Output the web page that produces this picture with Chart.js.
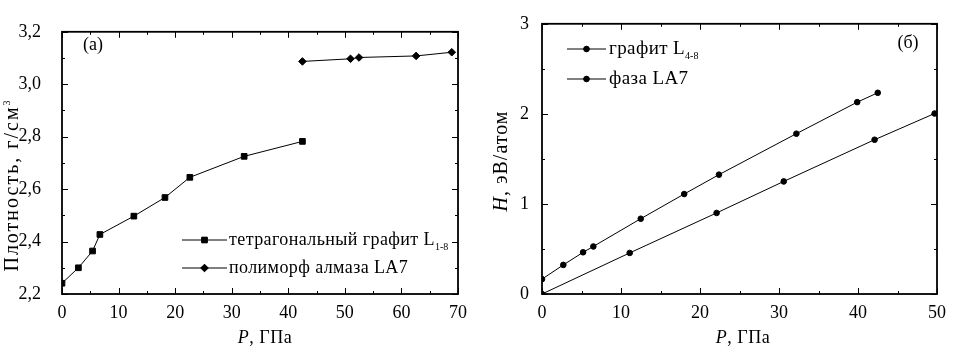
<!DOCTYPE html>
<html lang="ru">
<head>
<meta charset="UTF-8">
<title>Плотность и энтальпия</title>
<script src="https://cdn.jsdelivr.net/npm/chart.js"></script>
<style>
    body { margin: 0; background: #fff; }
    .wrap { position: relative; width: 958px; height: 357px; }
    canvas { position: absolute; top: 0; }
    #densityChart { left: 0; }
    #enthalpyChart { left: 480px; }
</style>
</head>
<body>
<div class="wrap">
    <canvas id="densityChart" width="480" height="357"></canvas>
    <canvas id="enthalpyChart" width="478" height="357"></canvas>
</div>
<script>
// (а) плотность, г/см3
const pressureL18 = [0, 2.9, 5.4, 6.7, 12.7, 18.2, 22.6, 32.2, 42.5];
const densityL18 = [2.241, 2.300, 2.364, 2.427, 2.497, 2.568, 2.645, 2.725, 2.782];
const pressureLA7 = [42.5, 51.0, 52.5, 62.6, 68.9];
const densityLA7 = [3.087, 3.097, 3.102, 3.108, 3.122];

// (б) энтальпия, эВ/атом
const pressureH48 = [0, 2.7, 5.2, 6.5, 12.5, 18.0, 22.4, 32.2, 39.9, 42.5];
const enthalpyH48 = [0.165, 0.323, 0.463, 0.528, 0.836, 1.11, 1.325, 1.78, 2.13, 2.234];
const pressureHLA7 = [0, 11.1, 22.1, 30.6, 42.1, 49.7];
const enthalpyHLA7 = [0, 0.456, 0.90, 1.25, 1.713, 2.004];

const FONT = '"Liberation Serif", "Times New Roman", serif';

function pts(xs, ys) {
    return xs.map((x, i) => ({ x: x, y: ys[i] }));
}

// frame with inward major/minor ticks on all four sides
const frameTicks = {
    id: 'frameTicks',
    afterDraw(chart, args, opts) {
        const ctx = chart.ctx, a = chart.chartArea;
        const sx = chart.scales.x, sy = chart.scales.y;
        ctx.save();
        ctx.strokeStyle = '#000';
        ctx.lineWidth = 1;
        const marks = (scale, step, len, horiz) => {
            const n = Math.round((scale.max - scale.min) / step);
            for (let i = 0; i <= n; i++) {
                const p = Math.round(scale.getPixelForValue(scale.min + i * step)) + 0.5;
                ctx.beginPath();
                if (horiz) {
                    ctx.moveTo(p, a.bottom); ctx.lineTo(p, a.bottom - len);
                    ctx.moveTo(p, a.top); ctx.lineTo(p, a.top + len);
                } else {
                    ctx.moveTo(a.left, p); ctx.lineTo(a.left + len, p);
                    ctx.moveTo(a.right, p); ctx.lineTo(a.right - len, p);
                }
                ctx.stroke();
            }
        };
        marks(sx, opts.xMajor, 6, true);
        marks(sx, opts.xMajor / 2, 3, true);
        marks(sy, opts.yMajor, 6, false);
        marks(sy, opts.yMajor / 2, 3, false);
        ctx.lineWidth = 1.8;
        ctx.strokeRect(a.left, a.top, a.right - a.left, a.bottom - a.top);
        ctx.restore();
    }
};

// text with italic symbol / subscript / superscript pieces
function drawParts(ctx, parts, x, y, align, size, spacing) {
    let w = 0;
    const setFont = p => {
        ctx.font = (p.italic ? 'italic ' : '') + (p.size || size) + 'px ' + FONT;
        ctx.letterSpacing = (p.size ? 0 : spacing) + 'px';
    };
    parts.forEach(p => {
        setFont(p);
        p.w = ctx.measureText(p.t).width;
        w += p.w;
    });
    let cx = align === 'center' ? x - w / 2 : x;
    parts.forEach(p => {
        setFont(p);
        ctx.fillText(p.t, cx, y + (p.dy || 0));
        cx += p.w;
    });
    ctx.letterSpacing = '0px';
}

const annotations = {
    id: 'annotations',
    afterDraw(chart, args, opts) {
        const ctx = chart.ctx;
        ctx.save();
        ctx.fillStyle = '#000';
        ctx.strokeStyle = '#000';
        ctx.textBaseline = 'middle';
        ctx.textAlign = 'left';
        // legend
        opts.legend.forEach(item => {
            const ds = chart.data.datasets[item.ds];
            ctx.lineWidth = 1;
            ctx.beginPath();
            ctx.moveTo(opts.lineX[0], item.y);
            ctx.lineTo(opts.lineX[1], item.y);
            ctx.stroke();
            Chart.helpers.drawPoint(ctx, {
                pointStyle: ds.pointStyle, radius: ds.pointRadius, rotation: 0, borderWidth: 1
            }, (opts.lineX[0] + opts.lineX[1]) / 2, item.y);
            ctx.fill();
            drawParts(ctx, item.parts, opts.textX, item.y, 'left', opts.legendSize, 0.4);
        });
        // panel label
        drawParts(ctx, [{ t: opts.panel[0] }], opts.panel[1], opts.panel[2], 'center', 18, 0);
        // axis titles
        drawParts(ctx, opts.xTitle, opts.xTitlePos[0], opts.xTitlePos[1], 'center', 18, 0.5);
        ctx.translate(opts.yTitlePos[0], opts.yTitlePos[1]);
        ctx.rotate(-Math.PI / 2);
        drawParts(ctx, opts.yTitle, 0, 0, 'center', 20, opts.yTitleSpacing);
        ctx.restore();
    }
};

function baseScales(xMax, yMin, yMax, yStep, yPad, yFmt) {
    const tickFont = { family: FONT, size: 18 };
    return {
        x: {
            type: 'linear', min: 0, max: xMax,
            grid: { display: false, drawTicks: false },
            border: { display: false },
            ticks: { stepSize: 10, color: '#000', font: tickFont, padding: 8, maxRotation: 0 },
            afterFit(s) { s.height = 63; }
        },
        y: {
            type: 'linear', min: yMin, max: yMax,
            grid: { display: false, drawTicks: false },
            border: { display: false },
            ticks: { stepSize: yStep, color: '#000', font: tickFont, padding: yPad, callback: yFmt },
            afterFit(s) { s.width = 62; }
        }
    };
}

function lineSet(data, style, radius) {
    return {
        data: data, borderColor: '#000', borderWidth: 1, tension: 0,
        pointStyle: style, pointRadius: radius, pointBackgroundColor: '#000',
        pointBorderColor: '#000', pointBorderWidth: 1
    };
}

new Chart(document.getElementById('densityChart'), {
    type: 'line',
    data: {
        datasets: [
            lineSet(pts(pressureL18, densityL18), 'rect', 4),
            lineSet(pts(pressureLA7, densityLA7), 'rectRot', 3.8)
        ]
    },
    options: {
        responsive: false,
        animation: false,
        layout: { padding: { top: 16, right: 22, left: 0, bottom: 0 } },
        scales: baseScales(70, 2.2, 3.2, 0.2, 21, v => v.toFixed(1).replace('.', ',')),
        plugins: {
            legend: { display: false },
            tooltip: { enabled: false },
            frameTicks: { xMajor: 10, yMajor: 0.2 },
            annotations: {
                lineX: [182, 227], textX: 229, legendSize: 18,
                legend: [
                    { ds: 0, y: 240, parts: [{ t: 'тетрагональный графит L' }, { t: '1-8', size: 10, dy: 7 }] },
                    { ds: 1, y: 268, parts: [{ t: 'полиморф алмаза LA7' }] }
                ],
                panel: ['(a)', 93, 45],
                xTitle: [{ t: 'P', italic: true }, { t: ', ГПа' }],
                xTitlePos: [265, 338],
                yTitle: [{ t: 'Плотность, г/см' }, { t: '3', size: 10, dy: -6 }],
                yTitleSpacing: 2,
                yTitlePos: [13, 186]
            }
        }
    },
    plugins: [frameTicks, annotations]
});

new Chart(document.getElementById('enthalpyChart'), {
    type: 'line',
    data: {
        datasets: [
            lineSet(pts(pressureH48, enthalpyH48), 'circle', 2.8),
            lineSet(pts(pressureHLA7, enthalpyHLA7), 'circle', 2.8)
        ]
    },
    options: {
        responsive: false,
        animation: false,
        layout: { padding: { top: 16, right: 21, left: 0, bottom: 0 } },
        scales: baseScales(50, 0, 3, 1, 13, v => String(v)),
        plugins: {
            legend: { display: false },
            tooltip: { enabled: false },
            frameTicks: { xMajor: 10, yMajor: 1 },
            annotations: {
                lineX: [87, 126], textX: 129, legendSize: 19,
                legend: [
                    { ds: 0, y: 49, parts: [{ t: 'графит L' }, { t: '4-8', size: 10, dy: 7 }] },
                    { ds: 1, y: 79, parts: [{ t: 'фаза LA7' }] }
                ],
                panel: ['(б)', 428, 43],
                xTitle: [{ t: 'P', italic: true }, { t: ', ГПа' }],
                xTitlePos: [263, 338],
                yTitle: [{ t: 'H', italic: true }, { t: ', эВ/атом' }],
                yTitleSpacing: 1,
                yTitlePos: [22, 161]
            }
        }
    },
    plugins: [frameTicks, annotations]
});
</script>
</body>
</html>
